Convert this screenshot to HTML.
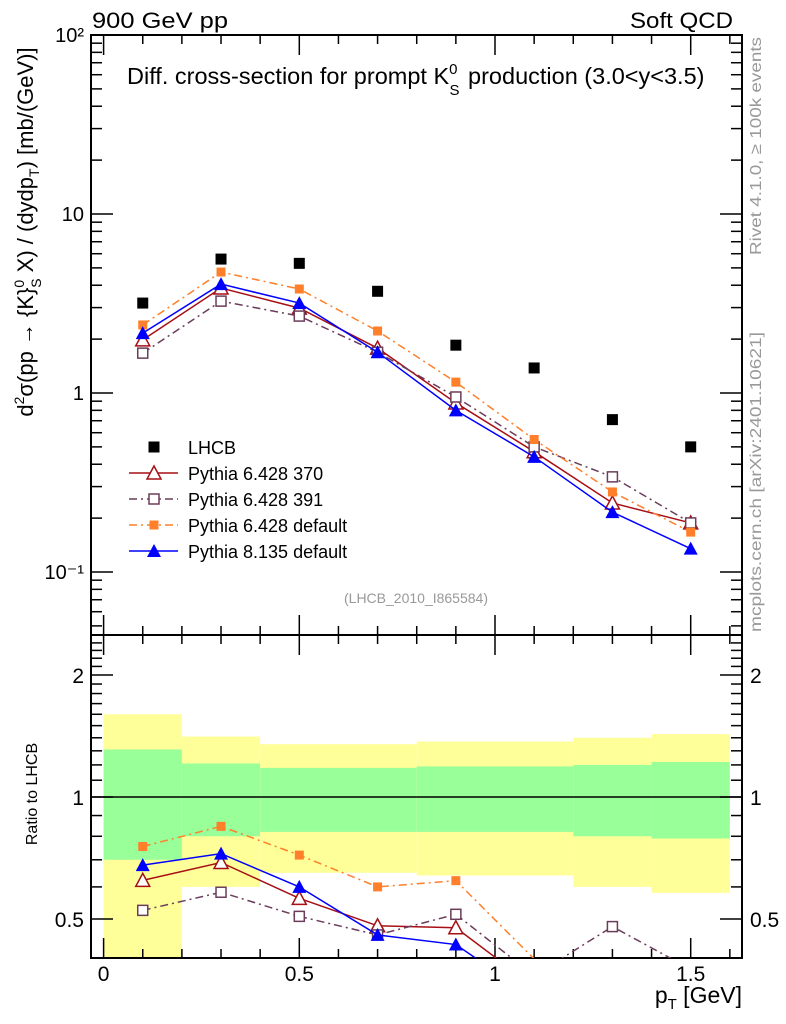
<!DOCTYPE html>
<html><head><meta charset="utf-8"><style>
html,body{margin:0;padding:0;background:#fff}
svg{display:block;font-family:"Liberation Sans",sans-serif}
</style></head><body>
<svg id="chart" width="786" height="1024" viewBox="0 0 786 1024" xmlns="http://www.w3.org/2000/svg">
<g id="bands"></g>
<g id="axes"></g>
<g id="series"></g>
<g id="texts">
<text x="92" y="28" font-size="22" textLength="136" lengthAdjust="spacingAndGlyphs">900 GeV pp</text>
<text x="630" y="28" font-size="22" textLength="103" lengthAdjust="spacingAndGlyphs">Soft QCD</text>
<text x="127" y="84" font-size="23.5">Diff. cross-section for prompt K<tspan font-size="15" dy="-10">0</tspan><tspan font-size="15" dx="-8" dy="21">S</tspan><tspan dy="-11" dx="2"> production (3.0&lt;y&lt;3.5)</tspan></text>
<text x="416" y="603" font-size="14" fill="#999" text-anchor="middle">(LHCB_2010_I865584)</text>
<text transform="translate(33,232) rotate(-90)" font-size="22" text-anchor="middle">d<tspan font-size="14" dy="-9">2</tspan><tspan dy="9">σ(pp → {K}</tspan><tspan font-size="14" dy="-9">0</tspan><tspan font-size="14" dx="-8" dy="17">S</tspan><tspan dy="-8"> X) / (dydp</tspan><tspan font-size="14" dy="6">T</tspan><tspan dy="-6">) [mb/(GeV)]</tspan></text>
<text transform="translate(37,794) rotate(-90)" font-size="16" text-anchor="middle">Ratio to LHCB</text>
<text x="742" y="1003" font-size="23" text-anchor="end">p<tspan font-size="15" dy="6">T</tspan><tspan dy="-6"> [GeV]</tspan></text>
<text transform="translate(761,255) rotate(-90)" font-size="16" fill="#999" textLength="218" lengthAdjust="spacingAndGlyphs">Rivet 4.1.0, ≥ 100k events</text>
<text transform="translate(761,632) rotate(-90)" font-size="16" fill="#999" textLength="300" lengthAdjust="spacingAndGlyphs">mcplots.cern.ch [arXiv:2401.10621]</text>
</g>
<g id="legend"></g>
</svg>
<script>
const xVals=[0.1,0.3,0.5,0.7,0.9,1.1,1.3,1.5];
const lhcb=[3.18,5.6,5.3,3.7,1.85,1.38,0.71,0.50];
const p370=[1.98,3.86,2.98,1.78,0.88,0.47,0.243,0.188];
const p391=[1.67,3.26,2.69,1.69,0.95,0.50,0.34,0.188];
const p6def=[2.4,4.74,3.81,2.22,1.15,0.55,0.28,0.167];
const p8def=[2.16,4.06,3.18,1.69,0.80,0.44,0.216,0.135];
const binEdges=[0,0.2,0.4,0.8,1.2,1.4,1.6];
const yellowHi=[1.6,1.41,1.35,1.37,1.40,1.43];
const greenHi=[1.31,1.21,1.18,1.19,1.20,1.22];
const greenLo=[0.70,0.80,0.82,0.82,0.80,0.79];
const yellowLo=[0.35,0.60,0.65,0.64,0.60,0.58];
const mainTicks=["10\u207B\u00B9","1","10","10\u00B2"];
const ratioTicks=[0.5,1,2];

const NS="http://www.w3.org/2000/svg";
const L=91,R=742,T=35,MB=635,RB=958;
const X=v=>103.6+v*391.4;
const Y=v=>393-Math.log10(v)*179;
const YR=v=>797-Math.log2(v)*122;
function mk(tag,attrs,parent){const e=document.createElementNS(NS,tag);for(const k in attrs)e.setAttribute(k,attrs[k]);parent.appendChild(e);return e;}
const axes=document.getElementById('axes'),bands=document.getElementById('bands'),ser=document.getElementById('series'),leg=document.getElementById('legend');

for(let i=0;i<binEdges.length-1;i++){
  const x0=X(binEdges[i]),x1=X(binEdges[i+1]);
  const clip=v=>Math.min(RB,Math.max(MB,YR(v)));
  const yb=mk('rect',{x:x0,y:clip(yellowHi[i]),width:x1-x0,height:clip(yellowLo[i])-clip(yellowHi[i]),fill:'#ffff99'},bands);
  
  
  const gb=mk('rect',{x:x0,y:clip(greenHi[i]),width:x1-x0,height:clip(greenLo[i])-clip(greenHi[i]),fill:'#99ff99'},bands);
  
  
}
mk('rect',{x:L,y:T,width:R-L,height:MB-T,fill:'none',stroke:'#000','stroke-width':2},axes);
mk('rect',{x:L,y:MB,width:R-L,height:RB-MB,fill:'none',stroke:'#000','stroke-width':2},axes);
mk('line',{x1:L,x2:R,y1:YR(1),y2:YR(1),stroke:'#000','stroke-width':1.5},axes);
for(let d=-2;d<=1;d++){for(let m=1;m<10;m++){const v=m*Math.pow(10,d);const y=Y(v);if(y<T||y>MB)continue;const len=m==1?22:11;
 mk('line',{x1:L,x2:L+len,y1:y,y2:y,stroke:'#000','stroke-width':1.5},axes);
 mk('line',{x1:R,x2:R-len,y1:y,y2:y,stroke:'#000','stroke-width':1.5},axes);}}
mainTicks.forEach((t,i)=>{const e=mk('text',{x:84,y:Y(Math.pow(10,i-1))+7,'font-size':20,'text-anchor':'end'},axes);e.textContent=t;
 
 });
for(let v=0.4;v<=2.5;v+=0.1){const y=YR(v);if(y<MB||y>RB)continue;const maj=Math.abs(v-0.5)<1e-6||Math.abs(v-1)<1e-6||Math.abs(v-2)<1e-6;const len=maj?22:11;
 mk('line',{x1:L,x2:L+len,y1:y,y2:y,stroke:'#000','stroke-width':1.5},axes);
 mk('line',{x1:R,x2:R-len,y1:y,y2:y,stroke:'#000','stroke-width':1.5},axes);}
ratioTicks.forEach(v=>{const s=v==0.5?'0.5':String(v);
 const a=mk('text',{x:84,y:YR(v)+8,'font-size':21,'text-anchor':'end'},axes);a.textContent=s;
 
 
 const b=mk('text',{x:750,y:YR(v)+8,'font-size':21},axes);b.textContent=s;
 
 });
for(let k=0;k<=16;k++){const v=k/10;const x=X(v);const maj=k%5==0;const len=maj?20:9;
 [[T,1],[MB,-1],[MB,1],[RB,-1]].forEach(([y0,s])=>mk('line',{x1:x,x2:x,y1:y0,y2:y0+s*len,stroke:'#000','stroke-width':1.5},axes));
 if(maj){const e=mk('text',{x:x,y:981,'font-size':21,'text-anchor':'middle'},axes);e.textContent=k==0?'0':(k==10?'1':String(v));
  
  }}

function marker(type,x,y,color,g){
 if(type=='sq')mk('rect',{x:x-5.5,y:y-5.5,width:11,height:11,fill:color},g);
 else if(type=='osq')mk('rect',{x:x-5,y:y-5,width:10,height:10,fill:'#fff',stroke:color,'stroke-width':1.5},g);
 else if(type=='fsq')mk('rect',{x:x-4.5,y:y-4.5,width:9,height:9,fill:color},g);
 else if(type=='otri')mk('polygon',{points:`${x},${y-7} ${x-7},${y+6} ${x+7},${y+6}`,fill:'#fff',stroke:color,'stroke-width':1.5},g);
 else mk('polygon',{points:`${x},${y-7} ${x-7},${y+6} ${x+7},${y+6}`,fill:color},g);
}
const sims=[
 {name:'Pythia 6.428 370',vals:p370,color:'#a50f15',dash:'',m:'otri',id:'series-pythia6-370'},
 {name:'Pythia 6.428 391',vals:p391,color:'#6a3d5a',dash:'8 4 2 4',m:'osq',id:'series-pythia6-391'},
 {name:'Pythia 6.428 default',vals:p6def,color:'#ff7f2a',dash:'8 4 2 4',m:'fsq',id:'series-pythia6-default'},
 {name:'Pythia 8.135 default',vals:p8def,color:'#0000ff',dash:'',m:'tri',id:'series-pythia8-default'}];
const cpMain=mk('clipPath',{id:'cm'},ser);mk('rect',{x:L,y:T,width:R-L,height:MB-T},cpMain);
const cpR=mk('clipPath',{id:'cr'},ser);mk('rect',{x:L,y:MB,width:R-L,height:RB-MB},cpR);
sims.forEach(s=>{
 const g=mk('g',{'clip-path':'url(#cm)'},ser);
 
 
 mk('polyline',{points:xVals.map((x,i)=>X(x)+','+Y(s.vals[i])).join(' '),fill:'none',stroke:s.color,'stroke-width':1.5,'stroke-dasharray':s.dash},g);
 xVals.forEach((x,i)=>marker(s.m,X(x),Y(s.vals[i]),s.color,g));
 const gr=mk('g',{'clip-path':'url(#cr)'},ser);
 
 
 mk('polyline',{points:xVals.map((x,i)=>X(x)+','+YR(s.vals[i]/lhcb[i])).join(' '),fill:'none',stroke:s.color,'stroke-width':1.5,'stroke-dasharray':s.dash},gr);
 xVals.forEach((x,i)=>{const y=YR(s.vals[i]/lhcb[i]);if(y<RB-4)marker(s.m,X(x),y,s.color,gr);});
});
const gd=mk('g',{},ser);


xVals.forEach((x,i)=>marker('sq',X(x),Y(lhcb[i]),'#000',gd));

const entries=[{name:'LHCB',color:'#000',dash:'',m:'sq',line:false}].concat(sims.map(s=>Object.assign({line:true},s)));
entries.forEach((e,i)=>{const y=447+i*26;
 const g=mk('g',{},leg);
 
 
 if(e.line)mk('line',{x1:129,x2:178,y1:y,y2:y,stroke:e.color,'stroke-width':1.5,'stroke-dasharray':e.dash},g);
 marker(e.m,154,y,e.color,g);
 const t=mk('text',{x:188,y:y+7,'font-size':18},g);t.textContent=e.name;});
</script>
</body></html>
